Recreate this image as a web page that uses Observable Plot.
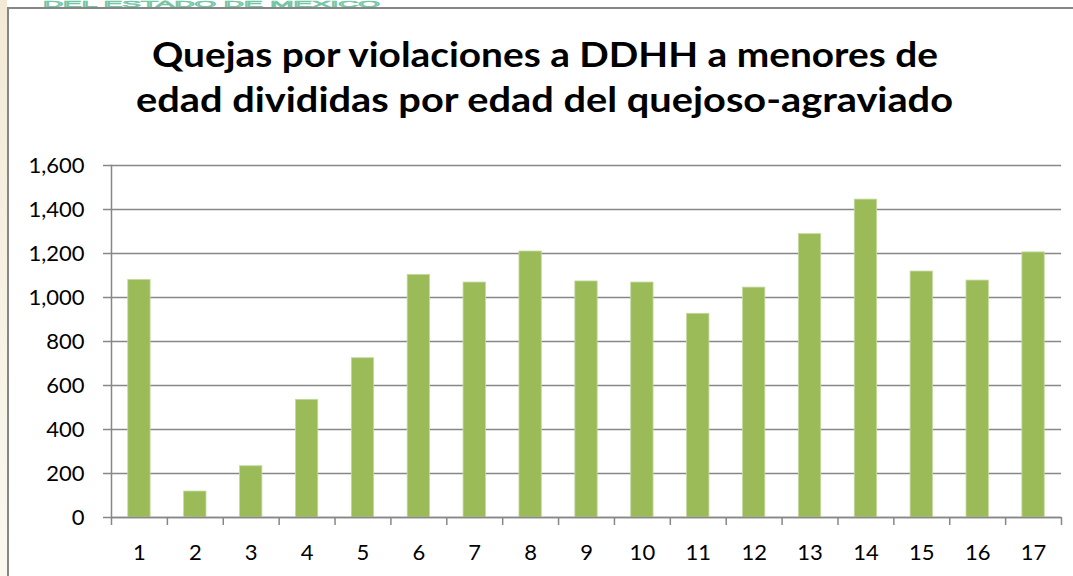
<!DOCTYPE html>
<html>
<head>
<meta charset="utf-8">
<script src="https://cdn.jsdelivr.net/npm/d3@7"></script>
<script src="https://cdn.jsdelivr.net/npm/@observablehq/plot@0.6"></script>
<style>
  html, body { margin: 0; padding: 0; background: #fff; overflow: hidden; }
  #wrap { position: relative; width: 1073px; height: 576px; overflow: hidden; background: #fff; font-family: Lato, "Open Sans", sans-serif; }
  #strip { position: absolute; left: 0; top: 0; width: 7px; height: 576px; background: linear-gradient(#f3ead6, #fbf8f0); }
  #frame { position: absolute; left: 7px; top: 7px; width: 1200px; height: 700px; border-left: 2px solid #868686; border-top: 2px solid #868686; background: #fff; }
  #chart { position: absolute; left: 0; top: 0; }
  #over { position: absolute; left: 0; top: 0; pointer-events: none; }
</style>
</head>
<body>
<div id="wrap">
  <div id="strip"></div>
  <svg id="over" width="1073" height="10"></svg>
  <div id="frame"></div>
  <div id="chart"></div>
  <svg id="titlesvg" width="1073" height="130" style="position:absolute;left:0;top:0"></svg>
</div>
<script>
// ---- data ----
const ages = [1, 2, 3, 4, 5, 6, 7, 8, 9, 10, 11, 12, 13, 14, 15, 16, 17];
const quejas = [1080, 118, 233, 535, 724, 1103, 1068, 1209, 1073, 1068, 926, 1045, 1288, 1445, 1118, 1077, 1205];
const yTicks = [0, 200, 400, 600, 800, 1000, 1200, 1400, 1600];
const titleLines = ["Quejas por violaciones a DDHH a menores de", "edad divididas por edad del quejoso-agraviado"];
const headerText = "DEL ESTADO DE MEXICO";

const data = ages.map((a, i) => ({age: a, value: quejas[i]}));

const W = 1073, H = 576;
const mL = 111, mR = 12, mT = 165, mB = 59;
const step = (W - mL - mR) / ages.length;
const grey = "#878787";

const chart = Plot.plot({
  width: W,
  height: H,
  marginLeft: mL,
  marginRight: mR,
  marginTop: mT,
  marginBottom: mB,
  style: {background: "transparent", fontFamily: "Lato, 'Open Sans', sans-serif", color: "#000"},
  x: {type: "band", domain: ages, paddingInner: 0.6, paddingOuter: 0.3, align: 0.5, round: false},
  y: {domain: [0, 1600]},
  marks: [
    Plot.gridY(yTicks, {stroke: grey, strokeOpacity: 1, strokeWidth: 1.5}),
    Plot.barY(data, {x: "age", y: "value", fill: "#9BBB59", stroke: "#c5d9a0", strokeWidth: 0.8}),
    Plot.ruleY([0], {stroke: grey, strokeWidth: 1.5}),
    Plot.frame({anchor: "left", stroke: grey, strokeWidth: 1.5}),
    Plot.axisY({ticks: yTicks, tickSize: 8, tickPadding: 19, tickFormat: d3.format(","), fontSize: 22, stroke: grey, strokeWidth: 1.5, fill: "#000", label: null}),
    Plot.axisX({ticks: ages, tickSize: 8, tickFormat: () => "", dx: -step / 2, stroke: grey, strokeWidth: 1.5, label: null}),
    Plot.axisX({ticks: [ages[ages.length - 1]], tickSize: 8, tickFormat: () => "", dx: step / 2, stroke: grey, strokeWidth: 1.5, label: null}),
    Plot.axisX({ticks: ages, tickSize: 0, tickPadding: 27, fontSize: 22, fill: "#000", label: null})
  ]
});
document.getElementById("chart").appendChild(chart);

// header text (small, outlined, in the strip above the frame)
const over = d3.select("#over");
over.append("text")
  .attr("x", 43).attr("y", 7)
  .attr("textLength", 337).attr("lengthAdjust", "spacingAndGlyphs")
  .attr("font-family", "'Liberation Sans', Arial, sans-serif")
  .attr("font-size", 9)
  .attr("fill", "none").attr("stroke", "#74c6a6").attr("stroke-width", 0.7)
  .text(headerText);

// title
const ts = d3.select("#titlesvg");
const tLines = [{x: 152, len: 786, y: 67}, {x: 136, len: 817, y: 112}];
titleLines.forEach((t, i) => {
  ts.append("text")
    .attr("x", tLines[i].x).attr("y", tLines[i].y)
    .attr("textLength", tLines[i].len).attr("lengthAdjust", "spacingAndGlyphs")
    .attr("font-family", "Lato, 'Open Sans', sans-serif")
    .attr("font-weight", "bold")
    .attr("font-size", 34)
    .attr("fill", "#000")
    .text(t);
});
</script>
</body>
</html>
